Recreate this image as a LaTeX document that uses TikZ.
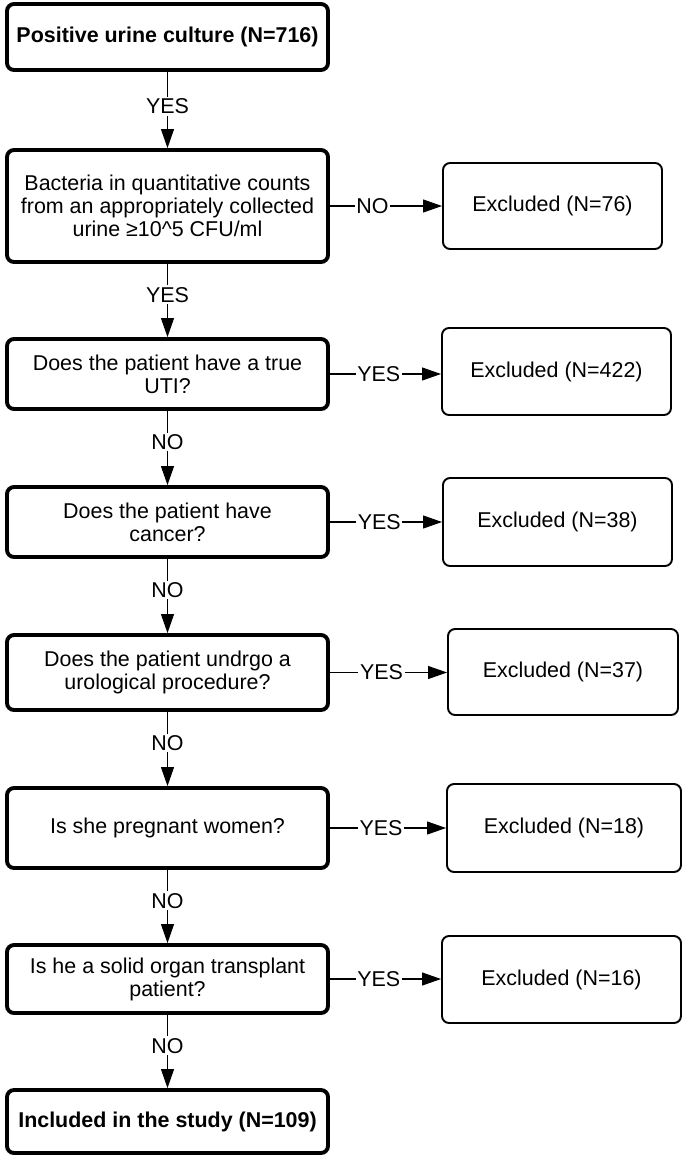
\documentclass[tikz,border=0pt]{standalone}
\usepackage{fontspec}
\setmainfont{Liberation Sans}
\usepackage{xcolor}
\usetikzlibrary{arrows.meta,positioning}

\begin{document}
\begin{tikzpicture}[
  font=\fontsize{12.2pt}{13.1pt}\selectfont,
  check/.style={draw, line width=2.2pt, rounded corners=4pt, minimum width=6.42cm, align=center, fill=white},
  excl/.style={draw, line width=1.1pt, rounded corners=4pt, align=center, fill=white},
  arrow/.style={-{Triangle[length=3.8mm, width=2.6mm]}, line width=0.6pt},
  lbl/.style={fill=white, inner sep=1pt}
]
\useasboundingbox (0,0) rectangle (13.7,-23.18);

\node[check, minimum height=1.32cm] (culture) at (3.35,-0.74) {\textbf{Positive urine culture (N=716)}};
\node[check, minimum height=2.24cm] (bacteria) at (3.35,-4.12) {Bacteria in quantitative counts\\from an appropriately collected\\urine ≥10\textasciicircum5 CFU/ml};
\node[check, minimum height=1.40cm] (uti) at (3.35,-7.48) {Does the patient have a true\\UTI?};
\node[check, minimum height=1.40cm] (cancer) at (3.35,-10.44) {Does the patient have\\cancer?};
\node[check, minimum height=1.50cm] (uro) at (3.35,-13.45) {Does the patient undrgo a\\urological procedure?};
\node[check, minimum height=1.60cm] (preg) at (3.35,-16.56) {Is she pregnant women?};
\node[check, minimum height=1.36cm] (transp) at (3.35,-19.58) {Is he a solid organ transplant\\patient?};
\node[check, minimum height=1.26cm] (incl) at (3.35,-22.43) {\textbf{Included in the study (N=109)}};

\node[excl, minimum width=4.38cm, minimum height=1.72cm] (ex76) at (11.05,-4.12) {Excluded (N=76)};
\node[excl, minimum width=4.58cm, minimum height=1.74cm] (ex422) at (11.13,-7.43) {Excluded (N=422)};
\node[excl, minimum width=4.58cm, minimum height=1.76cm] (ex38) at (11.15,-10.44) {Excluded (N=38)};
\node[excl, minimum width=4.60cm, minimum height=1.72cm] (ex37) at (11.26,-13.44) {Excluded (N=37)};
\node[excl, minimum width=4.68cm, minimum height=1.76cm] (ex18) at (11.28,-16.56) {Excluded (N=18)};
\node[excl, minimum width=4.78cm, minimum height=1.74cm] (ex16) at (11.23,-19.59) {Excluded (N=16)};

\draw[arrow] (culture) -- node[lbl, pos=0.45]{YES} (bacteria);
\draw[arrow] (bacteria) -- node[lbl, pos=0.42]{YES} (uti);
\draw[arrow] (uti) -- node[lbl, pos=0.42]{NO} (cancer);
\draw[arrow] (cancer) -- node[lbl, pos=0.42]{NO} (uro);
\draw[arrow] (uro) -- node[lbl, pos=0.42]{NO} (preg);
\draw[arrow] (preg) -- node[lbl, pos=0.42]{NO} (transp);
\draw[arrow] (transp) -- node[lbl, pos=0.42]{NO} (incl);

\draw[arrow] (bacteria.east) -- node[lbl, pos=0.38]{NO} (bacteria.east -| ex76.west);
\draw[arrow] (uti.east) -- node[lbl, pos=0.44]{YES} (uti.east -| ex422.west);
\draw[arrow] (cancer.east) -- node[lbl, pos=0.44]{YES} (cancer.east -| ex38.west);
\draw[arrow] (uro.east) -- node[lbl, pos=0.44]{YES} (uro.east -| ex37.west);
\draw[arrow] (preg.east) -- node[lbl, pos=0.44]{YES} (preg.east -| ex18.west);
\draw[arrow] (transp.east) -- node[lbl, pos=0.44]{YES} (transp.east -| ex16.west);
\end{tikzpicture}
\end{document}
